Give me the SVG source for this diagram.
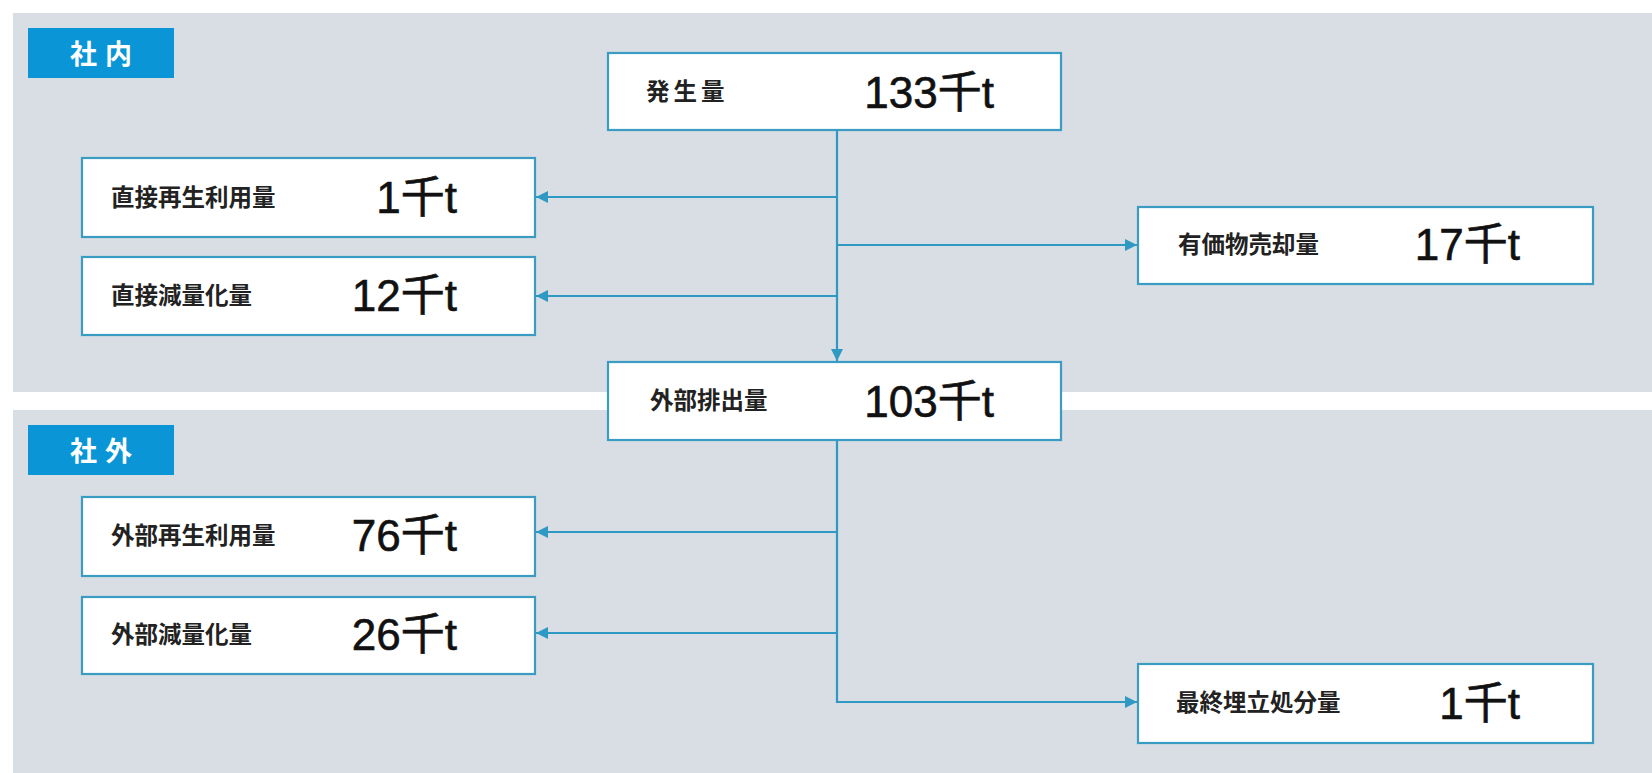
<svg xmlns="http://www.w3.org/2000/svg" width="1652" height="773" viewBox="0 0 1652 773">
<defs>
<style>
.panel{fill:#d9dde4}
.tag{fill:#0a96d6}
.tagtxt{font-family:"Noto Sans CJK JP","Noto Sans CJK SC",sans-serif;font-size:27px;font-weight:bold;fill:#ffffff;text-anchor:middle;letter-spacing:8px}
.box{fill:#ffffff;stroke:#3a9cc2;stroke-width:2.2}
.lbl{font-family:"Noto Sans CJK JP","Noto Sans CJK SC",sans-serif;font-size:23.5px;font-weight:bold;fill:#222222}
.num{font-family:"Liberation Sans","Noto Sans CJK JP",sans-serif;font-size:44px;fill:#111111;stroke:#111111;stroke-width:0.6;text-anchor:end}
.con{fill:none;stroke:#2e9ac4;stroke-width:2.2}
</style>
<marker id="arr" viewBox="0 0 12 12" refX="12" refY="6" markerWidth="12" markerHeight="12" markerUnits="userSpaceOnUse" orient="auto">
<path d="M0,0 L12,6 L0,12 Z" fill="#2e9ac4"/>
</marker>
</defs>
<rect width="1652" height="773" fill="#ffffff"/>
<rect class="panel" x="13" y="13" width="1639" height="379"/>
<rect class="panel" x="13" y="410" width="1639" height="363"/>

<g id="tag-inner">
<rect class="tag" x="28" y="28" width="146" height="50"/>
<text class="tagtxt" x="105" y="64">社内</text>
</g>
<g id="tag-outer">
<rect class="tag" x="28" y="425" width="146" height="50"/>
<text class="tagtxt" x="105" y="461">社外</text>
</g>

<g id="connectors">
<path class="con" d="M837,131 V361" marker-end="url(#arr)"/>
<path class="con" d="M837,197 H536" marker-end="url(#arr)"/>
<path class="con" d="M837,296 H536" marker-end="url(#arr)"/>
<path class="con" d="M837,245 H1137" marker-end="url(#arr)"/>
<path class="con" d="M837,441 V702 H1137" marker-end="url(#arr)"/>
<path class="con" d="M837,532 H536" marker-end="url(#arr)"/>
<path class="con" d="M837,633 H536" marker-end="url(#arr)"/>
</g>

<g id="node-hassei">
<rect class="box" x="608" y="53" width="453" height="77"/>
<text class="lbl" x="646" y="100" style="letter-spacing:4px">発生量</text>
<text class="num" x="994" y="108">133千t</text>
</g>
<g id="node-chokusetsu-saisei">
<rect class="box" x="82" y="158" width="453" height="79"/>
<text class="lbl" x="111" y="206">直接再生利用量</text>
<text class="num" x="457" y="213">1千t</text>
</g>
<g id="node-chokusetsu-genryo">
<rect class="box" x="82" y="257" width="453" height="78"/>
<text class="lbl" x="111" y="304">直接減量化量</text>
<text class="num" x="457" y="311">12千t</text>
</g>
<g id="node-yuka">
<rect class="box" x="1138" y="207" width="455" height="77"/>
<text class="lbl" x="1178" y="253">有価物売却量</text>
<text class="num" x="1520" y="260">17千t</text>
</g>
<g id="node-gaibu-haishutsu">
<rect class="box" x="608" y="362" width="453" height="78"/>
<text class="lbl" x="650" y="409">外部排出量</text>
<text class="num" x="994" y="417">103千t</text>
</g>
<g id="node-gaibu-saisei">
<rect class="box" x="82" y="497" width="453" height="79"/>
<text class="lbl" x="111" y="544">外部再生利用量</text>
<text class="num" x="457" y="551">76千t</text>
</g>
<g id="node-gaibu-genryo">
<rect class="box" x="82" y="597" width="453" height="77"/>
<text class="lbl" x="111" y="643">外部減量化量</text>
<text class="num" x="457" y="650">26千t</text>
</g>
<g id="node-saishu">
<rect class="box" x="1138" y="664" width="455" height="79"/>
<text class="lbl" x="1176" y="711">最終埋立処分量</text>
<text class="num" x="1520" y="719">1千t</text>
</g>
</svg>
